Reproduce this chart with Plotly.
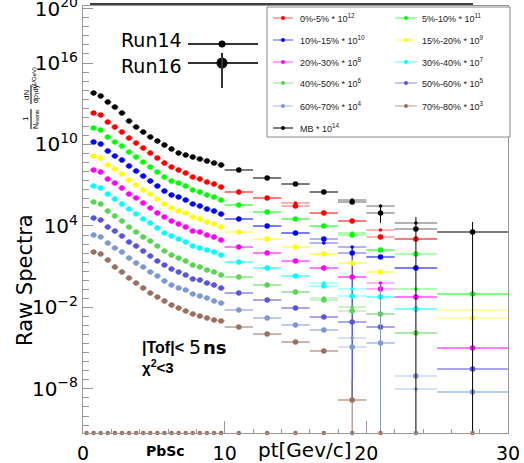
import numpy as np
import plotly.graph_objects as go

# ---------------- data ----------------
bin_edges = [0.0, 0.5, 1.0, 1.5, 2.0, 2.5, 3.0, 3.5, 4.0, 4.5, 5.0, 5.5, 6.0, 6.5,
             7.0, 7.5, 8.0, 8.5, 9.0, 9.5, 10.0, 12.0, 14.0, 16.0, 18.0, 20.0,
             22.0, 25.0, 30.0]

mb_run16 = [0, 6.2e13, 3.7e13, 1.34e13, 5.7e12, 2.07e12, 5.3e11, 1.94e11, 8.3e10, 3.55e10,
            1.8e10, 9.1e9, 4.6e9, 2.36e9, 1.68e9, 1.2e9, 8.5e8, 6.1e8, 4.3e8, 3.1e8,
            1.32e8, 3.4e7, 1.23e7, 3.16e6, 5.8e5, 9.0e4, 6.0e3, 3.6e3]
mb_run14_high = [1.32e8, 3.4e7, 1.23e7, 3.16e6, 8.1e5, 2.9e5, 1.65e4, 3.6e3]

c0_5_run16 = [0, 2.07e12, 1.48e12, 4.5e11, 1.94e11, 8.3e10, 3.0e10, 1.29e10, 5.5e9, 2.36e9,
              1.01e9, 4.3e8, 2.19e8, 1.32e8, 7.9e7, 4.0e7, 2.87e7, 1.73e7, 1.23e7, 7.4e6,
              3.16e6, 1.14e6, 2.94e5, 9.0e4, 2.32e4, 1.53e3, 1.09e3, 0]
c0_5_run14_high = [3.16e6, 1.14e6, 4.9e5, 9.0e4, 2.32e4, 5.0e3, 1.09e3, 0]

c5_10_run16 = [0, 1.63e11, 1.16e11, 3.55e10, 1.52e10, 7.7e9, 2.79e9, 1.2e9, 5.1e8, 2.19e8,
               9.4e7, 4.0e7, 2.04e7, 1.46e7, 8.7e6, 4.4e6, 3.16e6, 1.9e6, 1.36e6, 8.1e5,
               3.5e5, 1.06e5, 3.25e4, 9.9e3, 2.16e3, 1.69e2, 86, 9.7e-2]
c5_10_run14_high = [3.5e5, 1.06e5, 3.25e4, 9.9e3, 3.03e3, 1.69e2, 0.23, 9.7e-2]

c10_15_run16 = [0, 1.52e10, 1.08e10, 3.3e9, 1.42e9, 7.2e8, 2.6e8, 1.11e8, 4.8e7, 2.04e7,
                8.7e6, 3.75e6, 1.9e6, 1.36e6, 8.1e5, 4.1e5, 2.94e5, 1.77e5, 1.26e5, 7.6e4,
                3.25e4, 9.9e3, 3.03e3, 1.09e3, 1.02e2, 52, 8.0, 0]
c10_15_run14_high = [3.25e4, 9.9e3, 3.03e3, 5.5e2, 2.8e2, 52, 8.0, 0]

c15_20_run16 = [0, 1.42e9, 1.01e9, 3.1e8, 1.56e8, 6.7e7, 2.42e7, 1.04e7, 4.4e6, 2.25e6,
                9.7e5, 4.1e5, 2.1e5, 1.26e5, 9.0e4, 4.6e4, 3.25e4, 1.95e4, 1.39e4, 8.4e3,
                3.6e3, 1.09e3, 2.8e2, 86, 18.7, 4.1, 0, 1.67e-3]
c15_20_run14_high = [3.6e3, 1.09e3, 2.8e2, 86, 18.7, 4.1, 0, 6.5e-3]

c20_30_run16 = [0, 1.32e8, 9.4e7, 2.87e7, 1.46e7, 6.2e6, 2.25e6, 1.14e6, 4.9e5, 2.1e5,
                9.0e4, 4.6e4, 2.32e4, 1.39e4, 8.4e3, 4.2e3, 3.6e3, 2.16e3, 1.53e3, 9.2e2,
                2.8e2, 1.02e2, 26, 8.0, 1.74, 0.23, 5.9e-2, 1.03e-5]
c20_30_run14_high = [2.8e2, 1.02e2, 26, 8.0, 1.74, 0.63, 5.9e-2, 1.03e-5]

c30_40_run16 = [0, 8.7e6, 6.2e6, 2.25e6, 9.7e5, 4.1e5, 1.77e5, 7.6e4, 3.25e4, 1.65e4,
                7.1e3, 3.03e3, 1.82e3, 1.09e3, 6.6e2, 3.3e2, 2.38e2, 1.69e2, 1.21e2, 73,
                22, 8.0, 2.07, 0.38, 6.9e-2, 5.9e-2, 7.7e-3, 0]
c30_40_run14_high = [22, 8.0, 2.07, 0.63, 0.23, 5.9e-2, 7.7e-3, 0]

c40_50_run16 = [0, 5.8e5, 4.1e5, 1.26e5, 5.4e4, 2.32e4, 8.4e3, 3.6e3, 1.53e3, 7.8e2,
                3.3e2, 1.43e2, 73, 44, 26, 13.3, 9.5, 5.7, 4.1, 2.44,
                1.74, 0.45, 0.137, 3.5e-2, 5.5e-3, 3.3e-3, 1.31e-4, 0]
c40_50_run14_high = [1.74, 0.45, 0.137, 4.9e-2, 1.08e-2, 3.3e-3, 1.31e-4, 0]

c50_60_run16 = [0, 3.85e4, 2.74e4, 8.4e3, 4.2e3, 1.82e3, 6.6e2, 3.3e2, 1.43e2, 61,
                26, 13.3, 6.8, 4.1, 2.44, 1.24, 1.05, 0.63, 0.45, 0.27,
                0.115, 3.5e-2, 9.1e-3, 1.97e-3, 8.5e-4, 3.6e-4, 0, 2.9e-7]
c50_60_run14_high = [0.115, 3.5e-2, 9.1e-3, 1.97e-3, 8.5e-4, 3.6e-4, 0, 2.9e-7]

c60_70_run16 = [0, 2.16e3, 1.53e3, 5.5e2, 2.38e2, 1.21e2, 44, 18.7, 9.5, 4.1,
                2.07, 0.88, 0.45, 0.27, 0.19, 9.7e-2, 6.9e-2, 4.9e-2, 3.0e-2, 2.1e-2,
                6.5e-3, 1.67e-3, 5.1e-4, 2.18e-4, 1.22e-5, 2.4e-5, 8.9e-8, 5.9e-9]
c60_70_run14_high = [6.5e-3, 1.67e-3, 5.1e-4, 2.18e-4, 5.6e-5, 2.4e-5, 9.8e-9, 5.9e-9]

c70_80_run16 = [0, 1.21e2, 86, 31, 9.5, 4.1, 1.47, 0.63, 0.27, 0.115,
                5.9e-2, 3.0e-2, 1.51e-2, 9.1e-3, 5.5e-3, 3.3e-3, 2.34e-3, 1.67e-3, 1.19e-3, 1.0e-3,
                3.6e-4, 1.1e-4, 2.84e-5, 6.2e-6, 1.52e-9, 0, 0, 0]
c70_80_run14_high = [3.6e-4, 1.1e-4, 2.84e-5, 6.2e-6, 1.52e-9, 0, 0, 0]

# empty histogram (all bins zero) drawn on the floor of the log axis
empty_hist = [0.0] * 28

# large vertical error bars: (series, run, bin index) -> (lower edge, upper edge)
big_errors = {
    ("10-15", "Run14", 24): (1.52e-9, None),
    ("70-80", "Run16", 24): (0.0, 4.5e-8),
    ("60-70", "Run16", 25): (0.0, 0.32),
    ("20-30", "Run16", 25): (6.6e-5, 0.63),
    ("MB", "Run16", 25): (1.65e4, 3.5e5),
    ("MB", "Run16", 26): (0.0, 4.56e4),
    ("MB", "Run16", 27): (0.0, 1.95e4),
}

legend_labels = ["0%-5% * 10<sup>12</sup>", "5%-10% * 10<sup>11</sup>",
                 "10%-15% * 10<sup>10</sup>", "15%-20% * 10<sup>9</sup>",
                 "20%-30% * 10<sup>8</sup>", "30%-40% * 10<sup>7</sup>",
                 "40%-50% * 10<sup>6</sup>", "50%-60% * 10<sup>5</sup>",
                 "60%-70% * 10<sup>4</sup>", "70%-80% * 10<sup>3</sup>",
                 "MB * 10<sup>14</sup>"]

series = [
    ("0-5", "#ff0000", c0_5_run16, c0_5_run14_high),
    ("5-10", "#00ff00", c5_10_run16, c5_10_run14_high),
    ("10-15", "#0000ff", c10_15_run16, c10_15_run14_high),
    ("15-20", "#ffff00", c15_20_run16, c15_20_run14_high),
    ("20-30", "#ff00ff", c20_30_run16, c20_30_run14_high),
    ("30-40", "#00ffff", c30_40_run16, c30_40_run14_high),
    ("40-50", "#59d454", c40_50_run16, c40_50_run14_high),
    ("50-60", "#5954d9", c50_60_run16, c50_60_run14_high),
    ("60-70", "#7d99d1", c60_70_run16, c60_70_run14_high),
    ("70-80", "#987060", c70_80_run16, c70_80_run14_high),
    ("MB", "#000000", mb_run16, mb_run14_high),
]

# ---------------- geometry ----------------
W, H = 524, 463
ML, MR, MT, MBOT = 83, 16, 6, 30
PW, PH = W - ML - MR, H - MT - MBOT
Y_RANGE = [-11.25, 20.2]
X_RANGE = [0, 30]


def px(x):
    return (x - ML) / PW


def py(y):
    return (H - MBOT - y) / PH


def rgba(hexc, a):
    h = hexc.lstrip("#")
    return "rgba(%d,%d,%d,%.2f)" % (int(h[0:2], 16), int(h[2:4], 16), int(h[4:6], 16), a)


edges = np.array(bin_edges)
centers = (edges[:-1] + edges[1:]) / 2
halfw = (edges[1:] - edges[:-1]) / 2

fig = go.Figure()

for name, col, r16, r14_high in series:
    r14 = r16[:20] + r14_high
    for run, vals, msize in (("Run14", r14, 3.5), ("Run16", r16, 5.5)):
        idx = [i for i, v in enumerate(vals) if v > 0]
        ys = np.array([vals[i] for i in idx], dtype=float)
        plus = np.zeros(len(idx))
        minus = np.zeros(len(idx))
        for k, i in enumerate(idx):
            key = (name, run, i)
            if key in big_errors:
                lo, hi = big_errors[key]
                if lo is not None:
                    minus[k] = ys[k] - lo
                if hi is not None:
                    plus[k] = hi - ys[k]
        fig.add_trace(go.Scatter(
            x=centers[idx], y=ys, mode="markers",
            marker=dict(color=col, size=msize, line=dict(width=0)),
            error_x=dict(type="data", array=halfw[idx], color=rgba(col, 0.3),
                         thickness=2, width=0),
            error_y=dict(type="data", symmetric=False, array=plus, arrayminus=minus,
                         color=col, thickness=1, width=0),
            showlegend=False, hoverinfo="skip"))

# empty histogram on the axis floor
fig.add_trace(go.Scatter(
    x=centers, y=[10 ** Y_RANGE[0] if v == 0 else v for v in empty_hist],
    mode="markers", marker=dict(color="#987060", size=4.5),
    cliponaxis=False, showlegend=False, hoverinfo="skip"))

# ---------------- axes ----------------
ytv = [1e-8, 1e-2, 1e4, 1e10, 1e16, 1e20]
ytt = ["10<sup>\u22128</sup>", "10<sup>\u22122</sup>", "10<sup>4</sup>",
       "10<sup>10</sup>", "10<sup>16</sup>", "10<sup>20</sup>"]
minor_y = [10 ** (e / 1.5) for e in range(-16, 31)]

tickfont = dict(family="DejaVu Sans", size=20, color="black")
fig.update_layout(
    width=W, height=H, margin=dict(l=ML, r=MR, t=MT, b=MBOT, autoexpand=False),
    paper_bgcolor="white", plot_bgcolor="white", showlegend=False,
    xaxis=dict(range=X_RANGE, tickvals=[0, 10, 20, 30], ticktext=["0", "10", "20", "30"],
               ticks="inside", ticklen=12, tickcolor="#999", tickwidth=1,
               minor=dict(tickvals=[2, 4, 6, 8, 12, 14, 16, 18, 22, 24, 26, 28],
                          ticks="inside", ticklen=4, tickcolor="#999"),
               showline=True, linecolor="#999", linewidth=1, mirror=True,
               showgrid=False, zeroline=False,
               tickfont=dict(family="DejaVu Sans", size=19, color="black"),
               automargin=False, ticklabelstandoff=3, ticklabeloverflow="allow"),
    yaxis=dict(type="log", range=Y_RANGE, tickvals=ytv, ticktext=ytt,
               ticks="inside", ticklen=10, tickcolor="#999", tickwidth=1,
               minor=dict(tickvals=minor_y, ticks="inside", ticklen=6, tickcolor="#999"),
               showline=True, linecolor="#999", linewidth=1, mirror=True,
               showgrid=False, zeroline=False, tickfont=tickfont, automargin=False,
               ticklabeloverflow="allow", ticklabelstandoff=0),
)

shapes = []
ann = []

# title underline (title text cut off at the top of the canvas)
shapes.append(dict(type="line", xref="paper", yref="paper", x0=px(90), x1=px(473),
                   y0=py(4), y1=py(4), line=dict(color="black", width=1.5)))

# legend box
shapes.append(dict(type="rect", xref="paper", yref="paper", x0=px(267), x1=px(510),
                   y0=py(137), y1=py(7), line=dict(color="#888", width=1),
                   fillcolor="white", layer="above"))
rows_y = [18, 40, 62, 83, 106, 128]
col_line = [(273, 293), (395, 417)]
col_text = [298, 420]
for i, (lab, (name, col, _, _)) in enumerate(zip(legend_labels, series)):
    r, c = i // 2, i % 2
    yy = rows_y[r]
    x0, x1 = col_line[c]
    lc = rgba(col, 0.45) if col != "#000000" else "#555"
    shapes.append(dict(type="line", xref="paper", yref="paper", x0=px(x0), x1=px(x1),
                       y0=py(yy), y1=py(yy), line=dict(color=lc, width=1.5), layer="above"))
    xm = (x0 + x1) / 2
    shapes.append(dict(type="circle", xref="paper", yref="paper", x0=px(xm - 2), x1=px(xm + 2),
                       y0=py(yy + 2), y1=py(yy - 2), line=dict(width=0), fillcolor=col,
                       layer="above"))
    ann.append(dict(text=lab, x=px(col_text[c]), y=py(yy), xref="paper", yref="paper",
                    xanchor="left", yanchor="middle", showarrow=False,
                    font=dict(family="Liberation Sans", size=9, color="#222")))

# Run14 / Run16 legend
for yy, ty, r, lab in ((44, 40.5, 3.5, "Run14"), (63, 65.5, 5.5, "Run16")):
    shapes.append(dict(type="line", xref="paper", yref="paper", x0=px(188), x1=px(258),
                       y0=py(yy), y1=py(yy), line=dict(color="#333", width=2)))
    shapes.append(dict(type="circle", xref="paper", yref="paper", x0=px(222 - r), x1=px(222 + r),
                       y0=py(yy + r), y1=py(yy - r), line=dict(width=0), fillcolor="black"))
    ann.append(dict(text=lab, x=px(184), y=py(ty), xref="paper", yref="paper",
                    xanchor="right", yanchor="middle", showarrow=False,
                    font=dict(family="DejaVu Sans", size=19, color="black")))
shapes.append(dict(type="line", xref="paper", yref="paper", x0=px(222), x1=px(222),
                   y0=py(53), y1=py(88), line=dict(color="#333", width=2)))

# cuts text
for t, xx, fam, fs in (("<b>|Tof|&lt;</b>", 140, "Liberation Sans", 16),
                       ("5", 187, "DejaVu Sans", 19),
                       ("<b>ns</b>", 201, "DejaVu Sans", 18)):
    ann.append(dict(text=t, x=px(xx), y=py(347), xref="paper", yref="paper",
                    xanchor="left", yanchor="middle", showarrow=False,
                    font=dict(family=fam, size=fs, color="black")))
ann.append(dict(text="<b>\u03c7<sup>2</sup>&lt;3</b>", x=px(140), y=py(366), xref="paper",
                yref="paper", xanchor="left", yanchor="middle", showarrow=False,
                font=dict(family="Liberation Sans", size=15, color="black")))

# x axis title and PbSc
ann.append(dict(text="pt[Gev/c]", x=px(354), y=py(450), xref="paper", yref="paper",
                xanchor="right", yanchor="middle", showarrow=False,
                font=dict(family="DejaVu Sans", size=20, color="black")))
ann.append(dict(text="<b>PbSc</b>", x=px(165), y=py(451), xref="paper", yref="paper",
                xanchor="center", yanchor="middle", showarrow=False,
                font=dict(family="DejaVu Sans", size=14, color="black")))

# y axis title
ann.append(dict(text="Raw Spectra", x=px(25), y=py(280), xref="paper", yref="paper",
                xanchor="center", yanchor="middle", textangle=-90, showarrow=False,
                font=dict(family="DejaVu Sans", size=21, color="black")))
frac_parts = [("1", 26, 119, 8), ("N<sub>events</sub>", 36, 119, 7),
              ("dN", 26, 95, 8), ("dp<sub>T</sub>dy", 36, 94, 7),
              ("(1/GeV)", 34, 78, 6)]
for t, xx, yy, fs in frac_parts:
    ann.append(dict(text=t, x=px(xx), y=py(yy), xref="paper", yref="paper",
                    xanchor="center", yanchor="middle", textangle=-90, showarrow=False,
                    font=dict(family="Liberation Sans", size=fs, color="black")))
for ya, yb in ((109, 129), (85, 104)):
    shapes.append(dict(type="line", xref="paper", yref="paper", x0=px(31), x1=px(31),
                       y0=py(ya), y1=py(yb), line=dict(color="black", width=1)))

fig.update_layout(shapes=shapes, annotations=ann)
fig.write_html("out.html")
